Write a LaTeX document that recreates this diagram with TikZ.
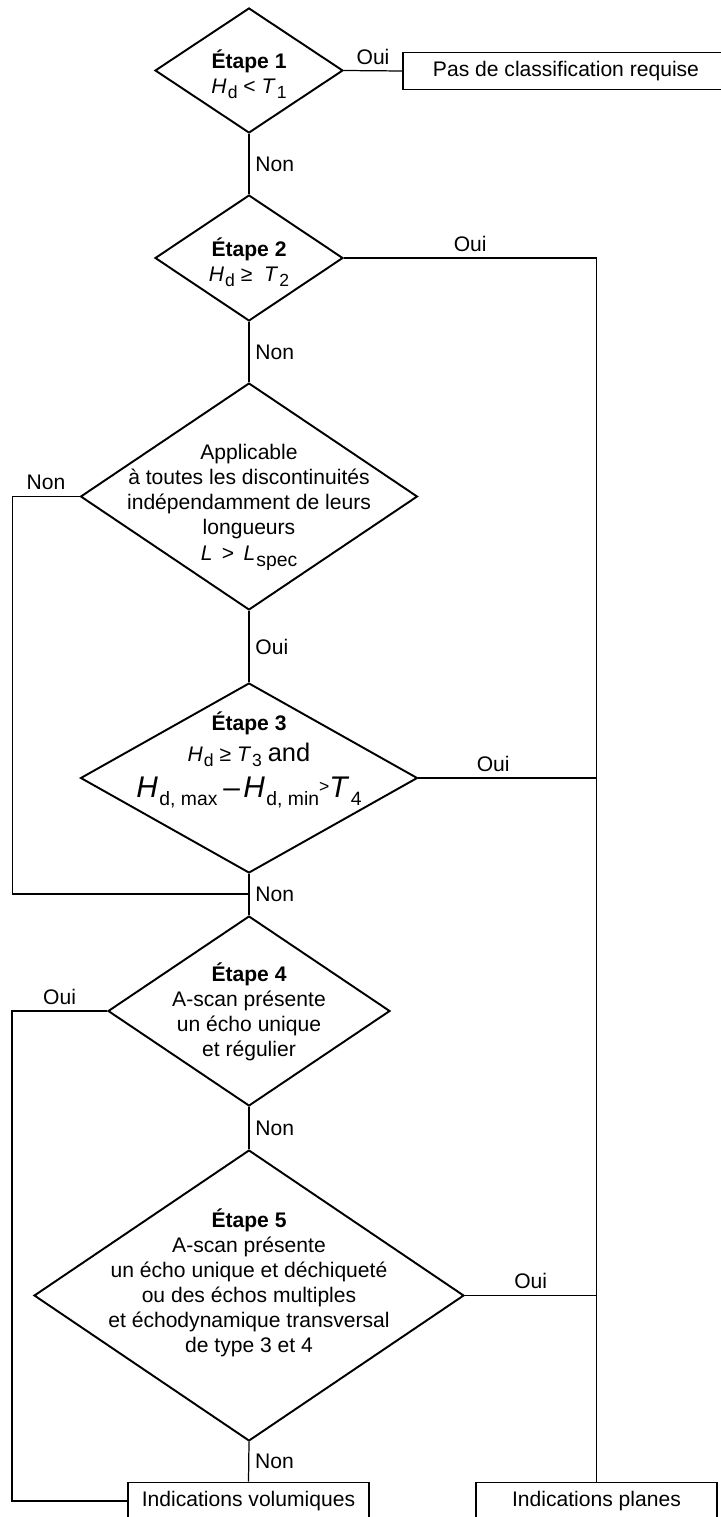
\documentclass[tikz,border=0pt]{standalone}
\usepackage{fontspec}
\setmainfont{Liberation Sans}
\usetikzlibrary{shapes.geometric}
\newcommand{\symb}[2]{\textit{#1}\raisebox{-3pt}{\fontsize{10}{10}\selectfont\kern0.6pt #2}}
\newcommand{\bigsymb}[2]{{\fontsize{17}{19}\selectfont\textit{#1}}\raisebox{-4.5pt}{\fontsize{11}{11}\selectfont\kern0.8pt #2}}
\begin{document}
\begin{tikzpicture}[x = 0.02cm, y = -0.02cm,
		every node/.style = {font=\fontsize{12}{14.2}\selectfont},
		decision/.style = {draw, diamond, line width=1.1pt, inner sep=0pt},
		result/.style = {draw, rectangle, line width=1.1pt, minimum height=0.74cm},
		flow/.style = {line width=0.7pt},
		txt/.style = {align=center, inner sep=0pt}]
		\useasboundingbox (0,0) rectangle (720,1517);
		\node[decision, minimum width=3.76cm, minimum height=2.5cm] (s1) at (249,70.5){};
		\node[decision, minimum width=3.76cm, minimum height=2.52cm] (s2) at (249,258){};
		\node[decision, minimum width=6.74cm, minimum height=4.54cm] (appl) at (249,496.5){};
		\node[decision, minimum width=6.74cm, minimum height=3.8cm] (s3) at (249,778){};
		\node[decision, minimum width=5.64cm, minimum height=3.8cm] (s4) at (249,1011){};
		\node[decision, minimum width=8.6cm, minimum height=5.82cm] (s5) at (249,1295.5){};
		\node[result, minimum width=6.52cm] (noclass) at (566,71){Pas de classification requise};
		\node[result, minimum width=4.82cm] (vol) at (248.5,1501){Indications volumiques};
		\node[result, minimum width=4.82cm] (planes) at (596.5,1501){Indications planes};
		\node[txt] (t1) at (249,74){\textbf{Étape 1}\\ \symb{H}{d} < \symb{T}{1}};
		\node[txt] (t2) at (249,262){\textbf{Étape 2}\\ \symb{H}{d} ≥ \ \symb{T}{2}};
		\node[txt] (tappl) at (249,507){Applicable\\ à toutes les discontinuités\\ indépendamment de leurs\\ longueurs\\[1pt] \textit{L} \,>\, \symb{L}{\fontsize{11}{11}\selectfont spec}};
		\node[txt] (t3) at (249,760){\textbf{Étape 3}\\[3pt] \symb{H}{d} ≥ \symb{T}{3} {\fontsize{14.5}{16}\selectfont and}\\[5pt] \bigsymb{H}{d, max} {\fontsize{17}{19}\selectfont –}\,\bigsymb{H}{d, min}\raisebox{3pt}{\fontsize{10}{10}\selectfont >}\bigsymb{T}{4}};
		\node[txt] (t4) at (249,1012){\textbf{Étape 4}\\ A-scan présente\\ un écho unique\\ et régulier};
		\node[txt] (t5) at (249,1283){\textbf{Étape 5}\\ A-scan présente\\ un écho unique et déchiqueté\\ ou des échos multiples\\ et échodynamique transversal\\ de type 3 et 4};
		\draw[flow] (s1.east) -- node[above]{Oui} (noclass.west);
		\draw[flow] (s1.south) -- node[right]{Non} (s2.north);
		\draw[flow] (s2.east) -- node[above]{Oui} (s2.east -| planes.north) -- (planes.north);
		\draw[flow] (s2.south) -- node[right]{Non} (appl.north);
		\coordinate (join) at (249,894);
		\draw[flow] (appl.west) -- node[above]{Non} ++(-67,0) |- (join);
		\draw[flow] (appl.south) -- node[right]{Oui} (s3.north);
		\draw[flow] (s3.east) -- node[above, pos=0.42]{Oui} (s3.east -| planes.north);
		\draw[flow] (s3.south) -- node[right]{Non} (s4.north);
		\draw[flow] (s4.west) -- node[above]{Oui} ++(-95,0) |- (vol.west);
		\draw[flow] (s4.south) -- node[right]{Non} (s5.north);
		\draw[flow] (s5.east) -- node[above]{Oui} (s5.east -| planes.north);
		\draw[flow] (s5.south) -- node[right]{Non} (vol.north);
\end{tikzpicture}
\end{document}
